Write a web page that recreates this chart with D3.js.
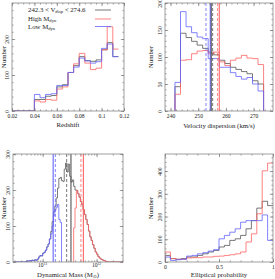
<!DOCTYPE html>
<html>
<head>
<meta charset="utf-8">
<script src="https://cdn.jsdelivr.net/npm/d3@7"></script>
<style>
body { margin: 0; background: #fff; }
text { font-family: "Liberation Serif", serif; fill: #222; }
</style>
</head>
<body>
<svg width="275" height="279"></svg>
<script>
// ---- data ----
// redshift histogram, bins of 0.005 starting at 0.04
var zStart = 0.04, zStep = 0.005;
var zAll  = [32, 32, 41, 43, 67, 73, 107, 126, 151, 140, 138, 142, 170, 190, 151];
var zHigh = [28, 25, 32, 30, 61, 67, 107, 131, 160, 133, 115, 119, 170, 234, 172];
var zLow  = [46, 37, 46, 48, 71, 71, 107, 122, 147, 139, 133, 137, 174, 186, 151];

// velocity dispersion histogram, bins of 2 km/s
var vStart = 241.6, vStep = 2;
var vAll  = [45, 144, 136, 129, 122, 116, 109, 104, 94, 88, 81, 77, 73, 69, 56, 50];
var vHigh = [31, 94, 95, 106, 111, 112, 106, 109, 91, 84, 94, 98, 103, 98, 97, 86];
var vLow  = [53, 184, 156, 145, 137, 134, 97, 97, 81, 81, 71, 64, 59, 62, 50, 37];
// medians (solid) and means (dashed)
var vLines = [
  {v: 252.8, c: "blue", dash: true}, {v: 254.35, c: "blue", dash: false},
  {v: 254.7, c: "black", dash: false}, {v: 255.2, c: "black", dash: true},
  {v: 257.0, c: "red", dash: true}, {v: 257.6, c: "red", dash: false}
];

// dynamical mass histogram, log10 bins of 0.025
var mStep = 0.025;
var mAllStart = 10.7;
var mAll = [3, 2, 4, 3, 5, 4, 6, 5, 8, 14, 18, 17, 24, 27, 33, 42, 50, 64, 85, 112,
            140, 155, 178, 205, 232, 235, 226, 224, 258, 275, 250, 272, 238, 222, 228, 210,
            200, 199, 190, 180, 168, 160, 145, 132, 118, 104, 86, 70, 60, 48, 38, 28,
            22, 15, 11, 8, 6, 4, 3, 1];
var mLowStart = 10.7;
var mLow = [3, 2, 4, 3, 5, 4, 6, 5, 8, 14, 18, 17, 24, 27, 33, 42, 50, 64, 78, 100,
            128, 145, 152, 160, 118, 110];
var mHighStart = 11.575;
var mHigh = [95, 150, 199, 190, 180, 168, 160, 145, 132, 118, 104, 86, 70, 60, 48, 38,
             28, 22, 15, 11, 8, 6, 4, 3, 1];
var mLines = [
  {v: 11.195, c: "blue", dash: false}, {v: 11.235, c: "blue", dash: true},
  {v: 11.445, c: "black", dash: true}, {v: 11.525, c: "black", dash: false},
  {v: 11.71, c: "red", dash: true}, {v: 11.755, c: "red", dash: false}
];

// elliptical probability histogram, bins of 0.05
var eStart = 0, eStep = 0.05;
var eAll  = [29, 15, 12, 15, 22, 22, 29, 36, 44, 51, 66, 73, 95, 102, 117, 146, 182, 237, 267, 248];
var eHigh = [44, 15, 12, 12, 18, 19, 19, 22, 22, 25, 26, 29, 32, 36, 44, 88, 124, 212, 401, 435];
var eLow  = [22, 7, 10, 12, 26, 29, 36, 41, 48, 54, 102, 117, 131, 146, 175, 182, 182, 182, 207, 95];

var colors = {black: "#555", red: "#ff6363", blue: "#6363ff"};

// ---- drawing ----
var svg = d3.select("svg");

function stepPoints(start, step, counts, lead, trail, dropEnd) {
  var pts = [];
  if (lead != null) pts.push([lead, 0]);
  pts.push([start, 0]);
  counts.forEach(function(c, i) {
    pts.push([start + i * step, c]);
    pts.push([start + (i + 1) * step, c]);
  });
  var end = start + counts.length * step;
  if (dropEnd) pts.push([end, 0]);
  if (trail != null) pts.push([trail, 0]);
  return pts;
}

function frame(g, x, y, opts) {
  var w = x.range()[1] - x.range()[0];
  var h = y.range()[0] - y.range()[1];
  var axes = [
    {a: d3.axisBottom(x), t: "translate(0," + h + ")", lab: true, dir: "x"},
    {a: d3.axisTop(x), t: "translate(0,0)", lab: false, dir: "x"},
    {a: d3.axisLeft(y), t: "translate(0,0)", lab: true, dir: "y"},
    {a: d3.axisRight(y), t: "translate(" + w + ",0)", lab: false, dir: "y"}
  ];
  axes.forEach(function(ax) {
    var major = ax.dir == "x" ? opts.xMajor : opts.yMajor;
    var minor = ax.dir == "x" ? opts.xMinor : opts.yMinor;
    g.append("g").attr("transform", ax.t)
      .call(ax.a.tickValues(minor).tickSizeInner(-1.6).tickSizeOuter(0).tickFormat(""));
    var gm = g.append("g").attr("transform", ax.t)
      .call(ax.a.tickValues(major).tickSizeInner(-3.2).tickSizeOuter(0).tickPadding(3)
        .tickFormat(ax.lab ? (ax.dir == "x" ? opts.xFmt : opts.yFmt) : ""));
    if (ax.lab && ax.dir == "y") {
      gm.selectAll("text")
        .attr("transform", "rotate(-90)")
        .attr("x", 0).attr("y", -3).attr("dy", 0)
        .attr("text-anchor", "middle");
    }
  });
  g.selectAll(".domain").remove();
  g.selectAll(".tick line").attr("stroke", "#666").attr("stroke-width", 0.6);
  g.selectAll(".tick text").attr("font-size", 5.6).attr("fill", "#222")
    .attr("font-family", "Liberation Serif, serif");
  g.append("rect").attr("width", w).attr("height", h)
    .attr("fill", "none").attr("stroke", "#888").attr("stroke-width", 0.8);
}

function panel(box, xScale, yDomain, opts) {
  var x = xScale.range([0, box.x1 - box.x0]);
  var y = d3.scaleLinear().domain(yDomain).range([box.y1 - box.y0, 0]);
  var g = svg.append("g").attr("transform", "translate(" + box.x0 + "," + box.y0 + ")");
  var clip = "clip" + box.x0 + "_" + box.y0;
  g.append("clipPath").attr("id", clip).append("rect")
    .attr("width", box.x1 - box.x0).attr("height", box.y1 - box.y0);
  var plot = g.append("g").attr("clip-path", "url(#" + clip + ")");
  opts.series.forEach(function(s) {
    var line = d3.line()
      .x(function(d) { return x(opts.tx ? opts.tx(d[0]) : d[0]); })
      .y(function(d) { return y(d[1]); });
    plot.append("path").attr("d", line(s.pts))
      .attr("fill", "none").attr("stroke", colors[s.c]).attr("stroke-width", 0.8);
  });
  (opts.vlines || []).forEach(function(l) {
    var xv = x(opts.tx ? opts.tx(l.v) : l.v);
    plot.append("line").attr("x1", xv).attr("x2", xv).attr("y1", 0).attr("y2", box.y1 - box.y0)
      .attr("stroke", colors[l.c]).attr("stroke-width", l.dash ? 0.8 : 1.1)
      .attr("stroke-dasharray", l.dash ? "3,2" : null);
  });
  frame(g, x, y, opts);
  // axis titles
  g.append("text")
    .attr("x", (box.x1 - box.x0) / 2).attr("y", box.y1 - box.y0 + opts.titleDy)
    .attr("text-anchor", "middle").attr("font-size", 6.8)
    .each(opts.xTitle);
  g.append("text")
    .attr("transform", "translate(" + (-opts.yTitleDx) + "," + ((box.y1 - box.y0) / 2) + ") rotate(-90)")
    .attr("text-anchor", "middle").attr("font-size", 6.8)
    .text("Number");
  return {g: g, x: x, y: y};
}

function range(a, b, s) {
  var out = [];
  for (var v = a; v <= b + 1e-9; v += s) out.push(+v.toFixed(6));
  return out;
}

// panel 1: redshift
var p1 = panel({x0: 12, x1: 124, y0: 3, y1: 111}, d3.scaleLinear().domain([0.02, 0.12]), [0, 300], {
  series: [
    {c: "black", pts: stepPoints(zStart, zStep, zAll, 0.02, null, false)},
    {c: "red", pts: stepPoints(zStart, zStep, zHigh, 0.02, null, false)},
    {c: "blue", pts: stepPoints(zStart, zStep, zLow, 0.02, null, false)}
  ],
  xMajor: range(0.02, 0.12, 0.02), xMinor: range(0.02, 0.12, 0.005),
  yMajor: [0, 100, 200], yMinor: range(0, 300, 20),
  xFmt: function(d) { return d == 0.1 ? "0.1" : d3.format(".2f")(d); },
  yFmt: d3.format("d"),
  titleDy: 16, yTitleDx: 6,
  xTitle: function() { d3.select(this).text("Redshift"); }
});

// legend in panel 1
var legend = [
  {c: "black", y: 9, parts: [["242.3 < V", 0], ["disp", 1], [" < 274.6", 0]]},
  {c: "red", y: 18, parts: [["High M", 0], ["dyn", 1]]},
  {c: "blue", y: 25.5, parts: [["Low M", 0], ["dyn", 1]]}
];
legend.forEach(function(l) {
  var t = p1.g.append("text").attr("x", 16).attr("y", l.y).attr("font-size", 6.8);
  l.parts.forEach(function(p) {
    t.append("tspan").text(p[0])
      .attr("font-size", p[1] ? 4.6 : 6.8)
      .attr("baseline-shift", p[1] ? "-25%" : null);
  });
  p1.g.append("line").attr("x1", 83).attr("x2", 99).attr("y1", l.y - 2).attr("y2", l.y - 2)
    .attr("stroke", colors[l.c]).attr("stroke-width", 0.8);
});

// panel 2: velocity dispersion
panel({x0: 165, x1: 273, y0: 3, y1: 111}, d3.scaleLinear().domain([238, 277]), [0, 200], {
  series: [
    {c: "black", pts: stepPoints(vStart, vStep, vAll, null, null, true)},
    {c: "red", pts: stepPoints(vStart, vStep, vHigh, null, null, true)},
    {c: "blue", pts: stepPoints(vStart, vStep, vLow, null, null, true)}
  ],
  vlines: vLines,
  xMajor: [240, 250, 260, 270], xMinor: range(238, 276, 2),
  yMajor: [0, 50, 100, 150, 200], yMinor: range(0, 200, 10),
  xFmt: d3.format("d"), yFmt: d3.format("d"),
  titleDy: 17, yTitleDx: 12,
  xTitle: function() { d3.select(this).text("Velocity dispersion (km/s)"); }
});

// panel 3: dynamical mass (log axis)
var lo = 10.45, hi = 12.49;
var minorLog = [];
for (var e = 10; e <= 12; e++) for (var k = 1; k <= 9; k++) {
  var lv = e + Math.log10(k);
  if (lv >= lo && lv <= hi) minorLog.push(Math.pow(10, lv));
}
var p3 = panel({x0: 13, x1: 123, y0: 154, y1: 262}, d3.scaleLog().domain([Math.pow(10, lo), Math.pow(10, hi)]), [0, 300], {
  tx: function(v) { return Math.pow(10, v); },
  series: [
    {c: "black", pts: stepPoints(mAllStart, mStep, mAll, lo, hi, true)},
    {c: "blue", pts: stepPoints(mLowStart, mStep, mLow, lo, null, true)},
    {c: "red", pts: stepPoints(mHighStart, mStep, mHigh, null, hi, true)}
  ],
  vlines: mLines,
  xMajor: [1e11, 1e12], xMinor: minorLog,
  yMajor: [0, 100, 200, 300], yMinor: range(0, 300, 20),
  xFmt: function() { return ""; }, yFmt: d3.format("d"),
  titleDy: 15, yTitleDx: 7,
  xTitle: function() {
    var t = d3.select(this);
    t.append("tspan").text("Dynamical Mass (M");
    t.append("tspan").text("\u2299").attr("font-size", 4.6).attr("baseline-shift", "-25%")
      .attr("font-family", "DejaVu Sans");
    t.append("tspan").text(")");
  }
});
// power-of-ten tick labels
[11, 12].forEach(function(e) {
  var t = p3.g.append("text").attr("x", p3.x(Math.pow(10, e))).attr("y", 113)
    .attr("text-anchor", "middle").attr("font-size", 5.6);
  t.append("tspan").text("10");
  t.append("tspan").text(e).attr("font-size", 3.8).attr("baseline-shift", "45%");
});

// panel 4: elliptical probability
panel({x0: 165, x1: 273, y0: 154, y1: 262}, d3.scaleLinear().domain([0, 1]), [0, 475], {
  series: [
    {c: "black", pts: stepPoints(eStart, eStep, eAll, null, null, false)},
    {c: "red", pts: stepPoints(eStart, eStep, eHigh, null, null, false)},
    {c: "blue", pts: stepPoints(eStart, eStep, eLow, null, null, false)}
  ],
  xMajor: [0, 0.5, 1], xMinor: range(0, 1, 0.1),
  yMajor: [0, 100, 200, 300, 400], yMinor: range(0, 460, 20),
  xFmt: function(d) { return d == 0.5 ? "0.5" : d3.format("d")(d); }, yFmt: d3.format("d"),
  titleDy: 15, yTitleDx: 12,
  xTitle: function() { d3.select(this).text("Elliptical probability"); }
});
</script>
</body>
</html>
